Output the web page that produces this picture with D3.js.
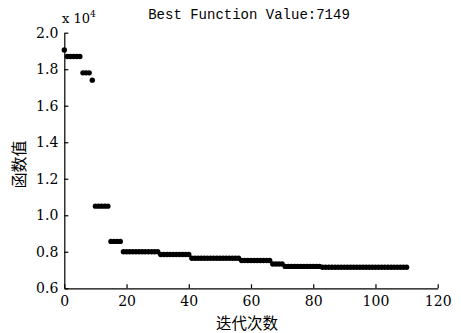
<!DOCTYPE html>
<html>
<head>
<meta charset="utf-8">
<script src="https://cdn.jsdelivr.net/npm/d3@7"></script>
<style>
  body { margin: 0; background: #fff; }
  svg { display: block; }
</style>
</head>
<body>
<svg id="chart"></svg>
<script>
// iteration index and best value found (raw, shown x 10^4)
var iterations = d3.range(0, 111);
var bestValues = [
  19050,
  18700, 18700, 18700, 18700, 18700,
  17800, 17800, 17800,
  17400,
  10500, 10500, 10500, 10500, 10500,
  8570, 8570, 8570, 8570,
  8000, 8000, 8000, 8000, 8000, 8000, 8000, 8000, 8000, 8000, 8000, 8000,
  7850, 7850, 7850, 7850, 7850, 7850, 7850, 7850, 7850, 7850,
  7650, 7650, 7650, 7650, 7650, 7650, 7650, 7650, 7650, 7650, 7650, 7650, 7650, 7650, 7650, 7650,
  7520, 7520, 7520, 7520, 7520, 7520, 7520, 7520, 7520, 7520,
  7330, 7330, 7330, 7330,
  7200, 7200, 7200, 7200, 7200, 7200, 7200, 7200, 7200, 7200, 7200, 7200,
  7149, 7149, 7149, 7149, 7149, 7149, 7149, 7149, 7149, 7149,
  7149, 7149, 7149, 7149, 7149, 7149, 7149, 7149, 7149, 7149,
  7149, 7149, 7149, 7149, 7149, 7149, 7149, 7149
];
var xTicks = [0, 20, 40, 60, 80, 100, 120];
var yTicks = [6000, 8000, 10000, 12000, 14000, 16000, 18000, 20000];
var titleText = "Best Function Value:7149";
var xLabel = "迭代次数";
var yLabel = "函数值";

var data = iterations.map(function(d, i) { return {x: d, y: bestValues[i]}; });

var width = 461, height = 333;
var margin = {top: 32.7, right: 23.3, bottom: 44.7, left: 64.3};
var w = width - margin.left - margin.right,
    h = height - margin.top - margin.bottom;

var svg = d3.select("#chart")
    .attr("width", width)
    .attr("height", height);

var g = svg.append("g")
    .attr("transform", "translate(" + margin.left + "," + margin.top + ")");

var x = d3.scaleLinear().domain([0, 120]).range([0, w]);
var y = d3.scaleLinear().domain([6000, 20000]).range([h, 0]);

// axes, ticks pointing inward
var xAxis = g.append("g")
    .attr("transform", "translate(0," + h + ")")
    .call(d3.axisBottom(x).tickValues(xTicks).tickSizeInner(-4).tickSizeOuter(0).tickPadding(8));
var yAxis = g.append("g")
    .call(d3.axisLeft(y).tickValues(yTicks).tickSizeInner(-4).tickSizeOuter(0).tickPadding(6)
      .tickFormat(function(d) { return d3.format(".1f")(d / 10000); }));

[xAxis, yAxis].forEach(function(a) {
  a.attr("font-family", null).attr("font-size", null);
  a.select(".domain").attr("stroke", "#000").attr("stroke-width", 1.2);
  a.selectAll(".tick line").attr("stroke", "#000").attr("stroke-width", 1.2);
  a.selectAll(".tick text")
    .attr("fill", "#000")
    .style("font-family", "'DejaVu Serif', serif")
    .style("font-size", "14px");
});
xAxis.selectAll(".tick text").attr("dy", "0.71em");

// points
g.append("g")
  .selectAll("circle")
  .data(data)
  .enter()
  .append("circle")
    .attr("cx", function(d) { return x(d.x); })
    .attr("cy", function(d) { return y(d.y); })
    .attr("r", 2.7)
    .style("fill", "#000");

// title
svg.append("text")
    .attr("x", 249)
    .attr("y", 19)
    .attr("text-anchor", "middle")
    .style("font-family", "'Liberation Mono', 'Courier New', monospace")
    .style("font-size", "14px")
    .text(titleText);

// exponent marker
var expo = svg.append("text")
    .attr("x", 62)
    .attr("y", 23)
    .style("font-family", "'DejaVu Serif', serif")
    .style("font-size", "13px");
expo.append("tspan").text("x 10");
expo.append("tspan").attr("dy", -6).style("font-size", "9px").text("4");

// axis labels
svg.append("text")
    .attr("x", margin.left + w / 2 - 4)
    .attr("y", 329)
    .attr("text-anchor", "middle")
    .style("font-family", "'Noto Sans CJK SC', sans-serif")
    .style("font-size", "15.5px")
    .text(xLabel);

svg.append("text")
    .attr("transform", "translate(25," + (margin.top + h / 2 + 4) + ") rotate(-90)")
    .attr("text-anchor", "middle")
    .style("font-family", "'Noto Sans CJK SC', sans-serif")
    .style("font-size", "16px")
    .text(yLabel);
</script>
</body>
</html>
